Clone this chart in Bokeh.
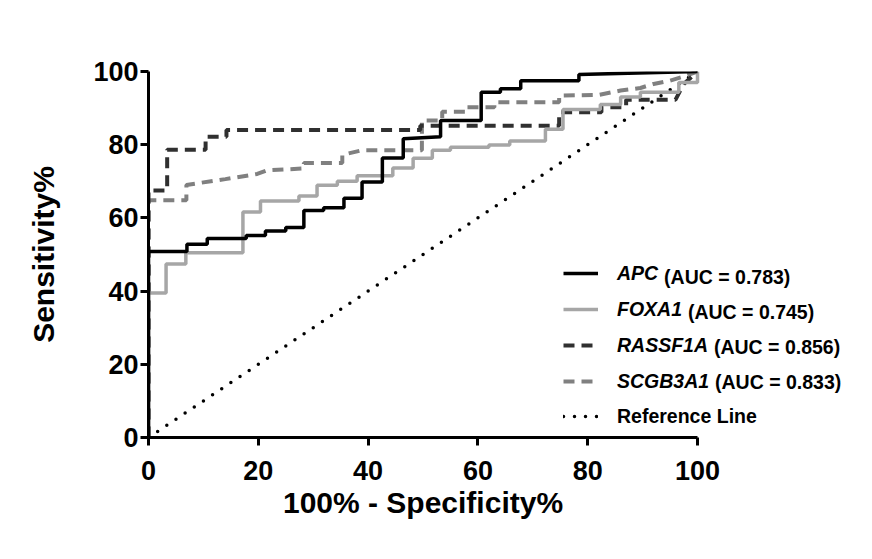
from bokeh.plotting import figure
from bokeh.models import Legend, LegendItem, Label, Title
from bokeh.embed import file_html
from bokeh.resources import INLINE

# ---- data ----
x_ticks = [0, 20, 40, 60, 80, 100]
y_ticks = [0, 20, 40, 60, 80, 100]

genes = ["APC", "FOXA1", "RASSF1A", "SCGB3A1"]
aucs = ["0.783", "0.745", "0.856", "0.833"]

apc_x = [0, 0, 7.0, 7.0, 10.7, 10.7, 17.8, 17.8, 21.3, 21.3, 25.0, 25.0, 28.3, 28.3,
         31.9, 31.9, 35.6, 35.6, 38.9, 38.9, 42.6, 42.6, 46.4, 46.4, 53.2, 53.2,
         60.6, 60.6, 64.1, 64.1, 67.8, 67.8, 78.4, 78.4, 100]
apc_y = [0, 50.8, 50.8, 52.8, 52.8, 54.4, 54.4, 55.2, 55.2, 56.4, 56.4, 57.4, 57.4,
         62.0, 62.0, 62.8, 62.8, 65.4, 65.4, 69.8, 69.8, 76.4, 76.4, 81.6, 82.2,
         86.6, 86.6, 94.3, 94.3, 95.3, 95.3, 97.5, 97.5, 99.2, 100]

foxa1_x = [0, 0, 3.2, 3.2, 6.8, 6.8, 17.2, 17.2, 20.4, 20.4, 27.4, 27.4, 30.7, 30.7,
           34.4, 34.4, 38.0, 38.0, 44.5, 44.5, 48.2, 48.2, 51.7, 51.7, 55.0, 55.0,
           62.0, 62.0, 65.8, 65.8, 72.3, 72.3, 75.5, 75.5, 82.3, 82.3, 86.0, 86.0,
           89.6, 89.6, 96.6, 96.6, 100, 100]
foxa1_y = [0, 39.5, 39.5, 47.4, 47.4, 50.5, 50.5, 61.6, 61.6, 64.6, 64.6, 66.0, 66.0,
           68.9, 68.9, 70.0, 70.0, 71.5, 71.5, 73.6, 73.6, 76.3, 76.3, 78.5, 78.5,
           79.3, 79.3, 79.9, 79.9, 81.0, 81.0, 84.2, 84.2, 89.6, 89.6, 91.0, 91.0,
           93.0, 93.0, 94.3, 94.3, 97.0, 97.0, 100]

rassf1a_x = [0, 0, 3.4, 3.4, 10.4, 10.4, 14.2, 14.2, 49.5, 49.5, 74.8, 74.8, 82.5,
             82.5, 87.0, 87.0, 96.0, 97.5, 100]
rassf1a_y = [0, 67.5, 67.5, 78.6, 78.6, 82.2, 82.2, 84.0, 84.0, 85.2, 85.2, 88.9, 88.9,
             90.2, 90.2, 92.3, 92.3, 96.6, 100]

scgb3a1_x = [0, 0, 6.9, 6.9, 14.0, 19.8, 21.6, 28.3, 28.3, 35.3, 35.3, 38.9, 49.8,
             49.8, 53.5, 53.5, 58.0, 58.0, 63.0, 63.0, 74.8, 74.8, 82.0, 86.0, 89.6,
             92.0, 95.0, 97.0, 100]
scgb3a1_y = [0, 64.8, 64.8, 69.0, 70.6, 72.0, 73.0, 73.5, 75.0, 75.0, 77.2, 78.5, 78.5,
             86.6, 86.6, 89.0, 89.0, 90.2, 90.2, 91.6, 91.6, 93.4, 93.6, 94.8, 95.5,
             96.6, 97.5, 98.4, 100]

ref_x = [0, 100]
ref_y = [0, 100]

# ---- layout ----
FONT = "Liberation Sans"
W, H = 864, 551
FL, FT, FH = 148, 71, 366
AXW = 549                 # pixel length of the 0..100 x axis
FW = 712                  # frame extends right so the legend is not clipped
XMAX = 100.0 * FW / AXW

p = figure(width=W, height=H, output_backend="svg", toolbar_location=None,
           x_range=(0, XMAX), y_range=(0, 100),
           min_border_left=FL, min_border_top=FT,
           min_border_right=W - FL - FW, min_border_bottom=H - FT - FH)
p.outline_line_color = None
p.grid.visible = False
p.background_fill_color = "white"
p.border_fill_color = "white"

for ax in (p.xaxis, p.yaxis):
    ax.axis_line_width = 3
    ax.axis_line_color = "black"
    ax.major_tick_line_width = 3
    ax.major_tick_line_color = "black"
    ax.major_tick_out = 8
    ax.major_tick_in = 0
    ax.minor_tick_line_color = None
    ax.major_label_text_font = FONT
    ax.major_label_text_font_style = "bold"
    ax.major_label_text_font_size = "27px"
    ax.major_label_text_color = "black"
    ax.axis_label_text_font = FONT
    ax.axis_label_text_font_style = "bold"
    ax.axis_label_text_font_size = "30px"
    ax.axis_label_text_color = "black"

p.xaxis.ticker = x_ticks
p.yaxis.ticker = y_ticks
p.xaxis.bounds = (0, 100)
p.yaxis.axis_label = "Sensitivity%"
p.xaxis.major_label_standoff = 15
p.yaxis.major_label_standoff = 2
p.yaxis.axis_label_standoff = 30

# x-axis title centred under the 0..100 axis (not the widened frame)
XT = "100% - Specificity%"
XTFS = 30
CWT = {"1": 556, "0": 556, "%": 889, " ": 278, "-": 333, "S": 667, "p": 611, "e": 556,
       "c": 556, "i": 278, "f": 333, "t": 333, "y": 556}
xt_w = sum(CWT.get(c, 600) for c in XT) * XTFS / 1000.0
p.add_layout(Title(text=XT, align="left", offset=AXW / 2 - xt_w / 2,
                   text_font=FONT, text_font_style="bold", text_font_size=f"{XTFS}px",
                   text_color="black", standoff=3), "below")

r_ref = p.line(ref_x, ref_y, line_color="black", line_width=3.5,
               line_dash="0 11", line_cap="round")
r_scgb = p.line(scgb3a1_x, scgb3a1_y, line_color="#808080", line_width=4,
                line_dash="11 7")
r_rass = p.line(rassf1a_x, rassf1a_y, line_color="#303030", line_width=4,
                line_dash="11 7")
r_fox = p.line(foxa1_x, foxa1_y, line_color="#a6a6a6", line_width=3.5)
r_apc = p.line(apc_x, apc_y, line_color="black", line_width=3.5)

# ---- legend ----
LFS = 19.5
ROW = 35
GW = 35
STAND = 19
LEG_X = 415              # from frame left
ROW0 = 160.3             # first row centre, from frame bottom
IH = 22

legend_genes = Legend(
    items=[LegendItem(label=g, renderers=[r]) for g, r in
           zip(genes, [r_apc, r_fox, r_rass, r_scgb])],
    location=(LEG_X, ROW0 - 3 * ROW - IH / 2),
    orientation="vertical", padding=0, margin=0, spacing=ROW - IH,
    glyph_width=GW, glyph_height=IH, label_height=IH, label_standoff=STAND,
    label_text_font=FONT, label_text_font_style="bold italic",
    label_text_font_size=f"{LFS}px", label_text_color="black",
    border_line_color=None, background_fill_alpha=0)
legend_ref = Legend(
    items=[LegendItem(label="Reference Line", renderers=[r_ref])],
    location=(LEG_X, ROW0 - 4 * ROW - IH / 2),
    orientation="vertical", padding=0, margin=0,
    glyph_width=GW, glyph_height=IH, label_height=IH, label_standoff=STAND,
    label_text_font=FONT, label_text_font_style="bold",
    label_text_font_size=f"{LFS}px", label_text_color="black",
    border_line_color=None, background_fill_alpha=0)
p.add_layout(legend_genes)
p.add_layout(legend_ref)

CW = {"A": 722, "P": 667, "C": 722, "F": 611, "O": 778, "X": 667, "R": 722,
      "S": 667, "G": 778, "B": 722, "1": 556, "3": 556, " ": 278}
text_x0 = LEG_X + GW + STAND
for i, (g, a) in enumerate(zip(genes, aucs)):
    w = sum(CW.get(c, 600) for c in g + " ") * LFS / 1000.0
    p.add_layout(Label(x=text_x0 + w, y=ROW0 - i * ROW, x_units="screen", y_units="screen",
                       text=f"(AUC = {a})", text_font=FONT, text_font_style="bold",
                       text_font_size=f"{LFS}px", text_color="black",
                       text_baseline="middle", text_align="left"))

open("out.html", "w").write(file_html(p, INLINE))
